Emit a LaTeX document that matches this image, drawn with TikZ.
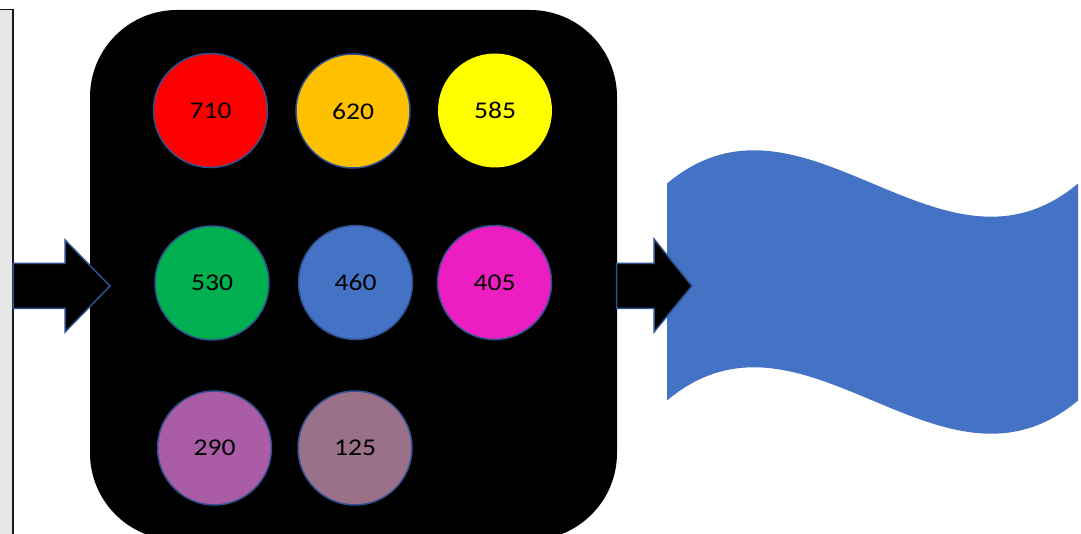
\documentclass[tikz,border=0pt]{standalone}
\usepackage{fontspec}
\setmainfont{Carlito}
\definecolor{panelgray}{HTML}{E7E6E6}
\definecolor{edgeblue}{HTML}{2F528F}
\definecolor{waveblue}{HTML}{4472C4}
\definecolor{cRed}{HTML}{FF0000}
\definecolor{cOrange}{HTML}{FFC000}
\definecolor{cYellow}{HTML}{FFFF00}
\definecolor{cGreen}{HTML}{00B050}
\definecolor{cBlue}{HTML}{4472C4}
\definecolor{cMagenta}{HTML}{EC1EC2}
\definecolor{cPurple}{HTML}{AA5CA5}
\definecolor{cMauve}{HTML}{9B7089}
\tikzset{
  band/.style={circle, minimum size=114pt, inner sep=0pt, draw=edgeblue, line width=1.5pt,
    text=black},
  bandlabel/.style={font=\fontsize{24}{28}\selectfont, text=black, xscale=1.15, inner sep=0pt},
  blockarrow/.style={fill=black, draw=edgeblue, line width=1.5pt, line join=miter},
}
\newcommand{\bandat}[4]{%
  \node[band, fill=#3, #4] (c#1) at (#2) {};
  \node[bandlabel] (t#1) at (c#1.center) {#1};}
\begin{document}
\begin{tikzpicture}[x=1pt,y=-1pt]
\useasboundingbox (0,0) rectangle (1081,534);
\clip (0,0) rectangle (1081,534);

% grey panel on the left
\draw[fill=panelgray, draw=black!90, line width=1.8pt] (-20,9.5) rectangle (13,560);

% black rounded box holding the bands
\fill[black, rounded corners=87pt] (90,10) rectangle (617,540);

% coloured bands
\bandat{710}{210.5,110.5}{cRed}{}
\bandat{620}{353,111}{cOrange}{}
\bandat{585}{495,110.5}{cYellow}{draw=none}
\bandat{530}{212,283}{cGreen}{}
\bandat{460}{355.5,282.5}{cBlue}{}
\bandat{405}{494.5,282.5}{cMagenta}{}
\bandat{290}{214.5,448}{cPurple}{}
\bandat{125}{355,448}{cMauve}{}

% wavy banner on the right
\fill[waveblue] (667,183.5) .. controls (804,68.5) and (941,298.5) .. (1078,183.5)
  -- (1078,400.5) .. controls (941,515.5) and (804,285.5) .. (667,400.5) -- cycle;

% block arrows
\draw[blockarrow] (13,263.5) -- (65,263.5) -- (65,240) -- (110,286) -- (65,332)
  -- (65,308.5) -- (13,308.5) -- cycle;
\draw[blockarrow] (616.5,263.5) -- (654,263.5) -- (654,239) -- (692,286) -- (654,332)
  -- (654,308.5) -- (616.5,308.5) -- cycle;
\end{tikzpicture}
\end{document}
